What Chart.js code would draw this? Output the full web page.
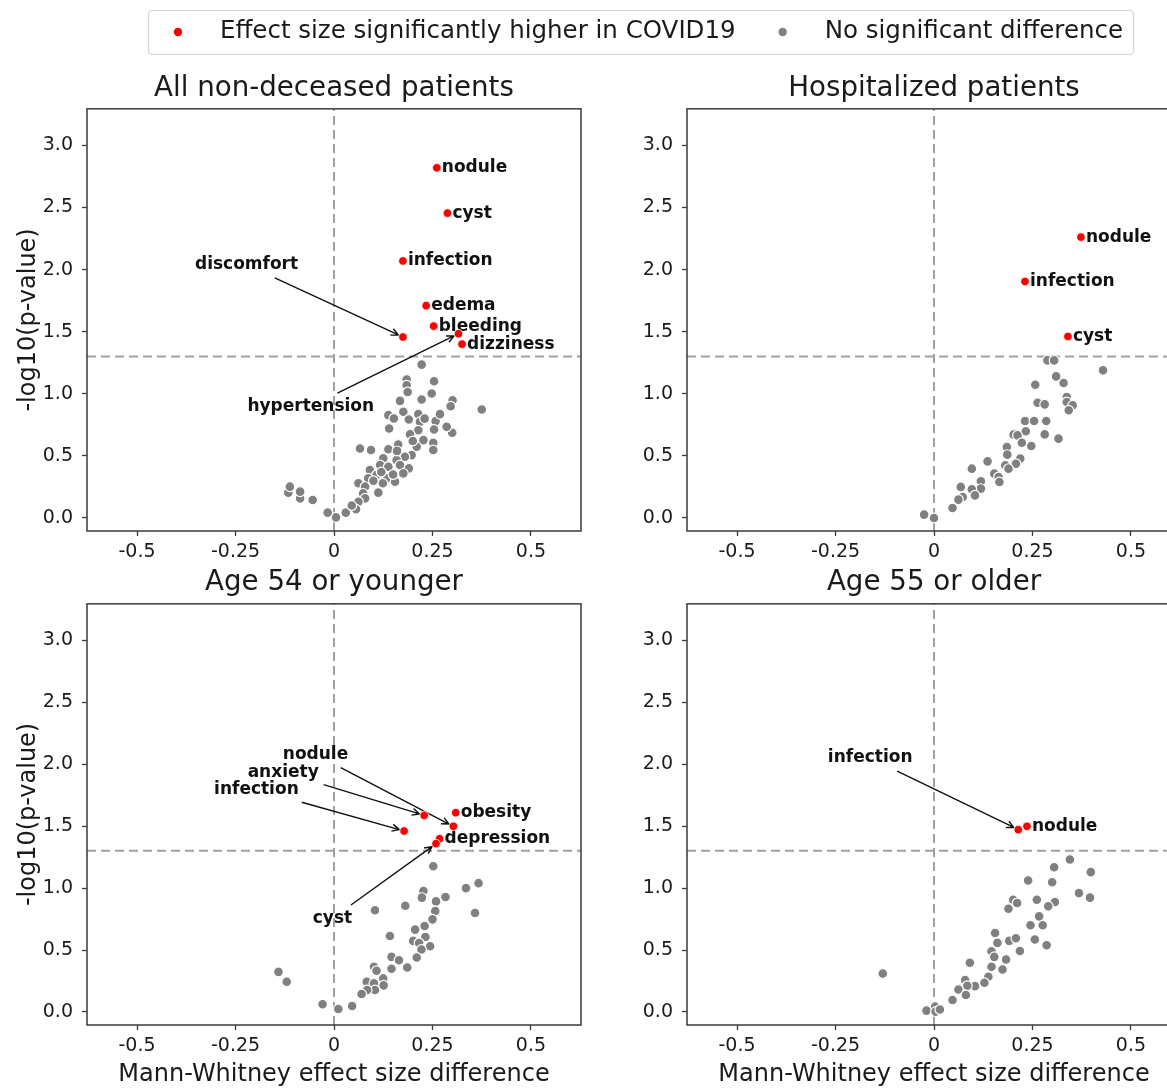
<!DOCTYPE html>
<html>
<head>
<meta charset="utf-8">
<script src="https://cdn.jsdelivr.net/npm/chart.js@4.4.0/dist/chart.umd.min.js"></script>
<style>
  html, body { margin: 0; padding: 0; background: #fff; overflow: hidden; width: 1167px; height: 1088px; }
  canvas { position: absolute; }
</style>
</head>
<body>
<canvas id="legend" width="1167" height="60" style="left:0;top:0"></canvas>
<canvas id="p0" width="600" height="510" style="left:0;top:60px"></canvas>
<canvas id="p1" width="600" height="510" style="left:600px;top:60px"></canvas>
<canvas id="p2" width="600" height="540" style="left:0;top:560px"></canvas>
<canvas id="p3" width="600" height="540" style="left:600px;top:560px"></canvas>
<script>
// axes
const xTicks = [-0.5, -0.25, 0, 0.25, 0.5];
const xTickLabels = ['-0.5', '-0.25', '0', '0.25', '0.5'];
const yTicks = [0, 0.5, 1, 1.5, 2, 2.5, 3];
const yTickLabels = ['0.0', '0.5', '1.0', '1.5', '2.0', '2.5', '3.0'];
const xRange = [-0.627, 0.627];
const yRange = [-0.105, 3.295];
const pThreshold = 0.05;

const legendNames = ['Effect size significantly higher in COVID19', 'No significant difference'];
const panelTitles = ['All non-deceased patients', 'Hospitalized patients', 'Age 54 or younger', 'Age 55 or older'];
const xTitle = 'Mann-Whitney effect size difference';
const yTitle = '-log10(p-value)';

// All non-deceased patients
const allSigNames = ['nodule', 'cyst', 'infection', 'edema', 'bleeding', 'hypertension', 'dizziness', 'discomfort'];
const allSigX = [0.261, 0.288, 0.175, 0.234, 0.253, 0.316, 0.325, 0.175];
const allSigY = [2.82, 2.455, 2.07, 1.71, 1.545, 1.484, 1.40, 1.457];
const allOtherX = [0.2225, 0.1845, 0.1845, 0.187, 0.254, 0.248, 0.2225, 0.1675, 0.301, 0.296, 0.375, 0.138, 0.152, 0.176, 0.190, 0.214,
  0.218, 0.258, 0.269, 0.140, 0.214, 0.193, 0.254, 0.300, 0.286, 0.227, 0.252, 0.163, 0.210, 0.252, 0.066, 0.094, 0.138, 0.197,
  0.180, 0.125, 0.159, 0.117, 0.138, 0.1675, 0.190, 0.176, 0.091, 0.108, 0.087, 0.134, 0.155, 0.062, 0.079, 0.1125, 0.074, 0.079,
  0.062, 0.056, 0.030, 0.005, -0.016, -0.116, -0.112, -0.086, -0.086, -0.054, 0.124, 0.150, 0.100, 0.200, 0.230, 0.120, 0.045, 0.160];
const allOtherY = [1.235, 1.115, 1.069, 1.015, 1.101, 1.002, 0.954, 0.943, 0.948, 0.900, 0.874, 0.828, 0.801, 0.855, 0.793, 0.836,
  0.774, 0.780, 0.836, 0.721, 0.707, 0.673, 0.713, 0.686, 0.734, 0.627, 0.605, 0.592, 0.573, 0.547, 0.560, 0.547, 0.553, 0.506,
  0.493, 0.480, 0.466, 0.426, 0.413, 0.426, 0.399, 0.359, 0.386, 0.346, 0.319, 0.319, 0.292, 0.279, 0.252, 0.204, 0.198, 0.158,
  0.131, 0.070, 0.043, 0.005, 0.043, 0.204, 0.252, 0.158, 0.212, 0.145, 0.279, 0.350, 0.300, 0.620, 0.800, 0.370, 0.100, 0.540];
const allNoteNames = ['discomfort', 'hypertension'];
const allNoteX = [-0.222, -0.059];
const allNoteY = [2.039, 0.900];

// Hospitalized patients
const hospSigNames = ['nodule', 'infection', 'cyst'];
const hospSigX = [0.373, 0.231, 0.340];
const hospSigY = [2.262, 1.905, 1.462];
const hospOtherX = [0.288, 0.305, 0.429, 0.310, 0.329, 0.257, 0.337, 0.337, 0.352, 0.342, 0.263, 0.281, 0.231, 0.254, 0.285,
  0.233, 0.202, 0.212, 0.281, 0.316, 0.223, 0.247, 0.185, 0.186, 0.219, 0.208, 0.181, 0.189, 0.136, 0.096, 0.153, 0.164, 0.166,
  0.119, 0.119, 0.096, 0.104, 0.068, 0.073, 0.062, 0.047, -0.025, 0.0];
const hospOtherY = [1.269, 1.269, 1.189, 1.140, 1.087, 1.073, 0.974, 0.934, 0.907, 0.867, 0.928, 0.915, 0.781, 0.781, 0.781,
  0.698, 0.671, 0.665, 0.673, 0.639, 0.606, 0.580, 0.572, 0.510, 0.478, 0.437, 0.424, 0.397, 0.456, 0.397, 0.357, 0.330, 0.290,
  0.295, 0.236, 0.231, 0.182, 0.250, 0.169, 0.148, 0.080, 0.027, 0.0];
const hospNoteNames = [];
const hospNoteX = [];
const hospNoteY = [];

// Age 54 or younger
const youngSigNames = ['obesity', 'nodule', 'anxiety', 'infection', 'depression', 'cyst'];
const youngSigX = [0.309, 0.303, 0.229, 0.178, 0.268, 0.259];
const youngSigY = [1.609, 1.499, 1.587, 1.461, 1.399, 1.359];
const youngOtherX = [0.252, 0.335, 0.367, 0.358, 0.227, 0.223, 0.259, 0.283, 0.104, 0.181, 0.257, 0.250, 0.230, 0.206, 0.142,
  0.232, 0.201, 0.216, 0.244, 0.222, 0.210, 0.146, 0.165, 0.186, 0.146, 0.1015, 0.108, 0.125, 0.083, 0.1015, 0.126, 0.104, 0.084,
  0.070, -0.141, -0.120, -0.029, 0.011, 0.046];
const youngOtherY = [1.177, 1.000, 1.040, 0.799, 0.976, 0.923, 0.893, 0.928, 0.821, 0.858, 0.815, 0.748, 0.694, 0.665, 0.614,
  0.606, 0.574, 0.557, 0.531, 0.504, 0.440, 0.445, 0.418, 0.359, 0.349, 0.365, 0.333, 0.271, 0.244, 0.231, 0.215, 0.177, 0.177,
  0.145, 0.324, 0.244, 0.062, 0.024, 0.048];
const youngNoteNames = ['nodule', 'anxiety', 'infection', 'cyst'];
const youngNoteX = [-0.047, -0.129, -0.197, -0.004];
const youngNoteY = [2.078, 1.936, 1.796, 0.756];

// Age 55 or older
const oldSigNames = ['infection', 'nodule'];
const oldSigX = [0.214, 0.236];
const oldSigY = [1.472, 1.499];
const oldOtherX = [0.345, 0.305, 0.398, 0.239, 0.300, 0.368, 0.396, 0.201, 0.211, 0.261, 0.307, 0.290, 0.189, 0.267, 0.245,
  0.276, 0.155, 0.161, 0.191, 0.208, 0.256, 0.286, 0.218, 0.146, 0.153, 0.183, 0.091, 0.146, 0.174, 0.138, 0.128, 0.104, 0.079,
  0.0845, 0.062, 0.081, 0.047, 0.003, -0.019, 0.004, 0.015, -0.130];
const oldOtherY = [1.231, 1.169, 1.129, 1.062, 1.048, 0.960, 0.923, 0.906, 0.880, 0.906, 0.888, 0.853, 0.834, 0.772, 0.700,
  0.700, 0.638, 0.558, 0.574, 0.595, 0.585, 0.539, 0.493, 0.490, 0.445, 0.424, 0.397, 0.365, 0.343, 0.284, 0.236, 0.209, 0.257,
  0.212, 0.182, 0.137, 0.097, 0.043, 0.011, 0.003, 0.020, 0.311];
const oldNoteNames = ['infection'];
const oldNoteX = [-0.162];
const oldNoteY = [2.051];

Chart.defaults.font.family = '"DejaVu Sans"';
Chart.defaults.color = '#1a1a1a';
Chart.defaults.animation = false;

const sigColor = '#ff0000';
const otherColor = '#808080';
const frameColor = '#3a3a3a';

function zip(xs, ys) { return xs.map((x, i) => ({ x: x, y: ys[i] })); }

// box round the plot area
const frame = {
  id: 'frame',
  afterDatasetsDraw(chart) {
    const a = chart.chartArea, ctx = chart.ctx;
    ctx.save();
    ctx.strokeStyle = frameColor;
    ctx.lineWidth = 1.5;
    ctx.strokeRect(a.left, a.top, a.right - a.left, a.bottom - a.top);
    ctx.restore();
  }
};

// point labels and callouts, drawn after the dashed lines but under the dots
const pointLabels = {
  id: 'pointLabels',
  afterDatasetDraw(chart, args) {
    if (args.index !== 2) return;
    const p = chart.options.plugins.pointLabels;
    const xs = chart.scales.x, ys = chart.scales.y, ctx = chart.ctx;
    ctx.save();
    ctx.font = 'bold 17px "DejaVu Sans"';
    ctx.fillStyle = '#111';
    ctx.strokeStyle = '#111';
    ctx.lineWidth = 1.4;
    ctx.textBaseline = 'middle';
    p.names.forEach((name, i) => {
      const px = xs.getPixelForValue(p.x[i]);
      const py = ys.getPixelForValue(p.y[i]);
      const n = p.noteNames.indexOf(name);
      if (n < 0) {
        ctx.textAlign = 'left';
        ctx.fillText(name, px + 5, py);
        return;
      }
      const tx = xs.getPixelForValue(p.noteX[n]);
      const ty = ys.getPixelForValue(p.noteY[n]);
      ctx.textAlign = 'center';
      ctx.fillText(name, tx, ty);
      const dx = px - tx, dy = py - ty;
      const len = Math.hypot(dx, dy);
      const ux = dx / len, uy = dy / len;
      const hw = ctx.measureText(name).width / 2 + 3, hh = 12.2;
      const t = Math.min(hw / Math.abs(dx), hh / Math.abs(dy));
      const sx = tx + dx * t + ux * 2, sy = ty + dy * t + uy * 2;
      const ex = px - ux * 5, ey = py - uy * 5;
      ctx.beginPath();
      ctx.moveTo(sx, sy);
      ctx.lineTo(ex, ey);
      const a = Math.atan2(uy, ux), hl = 8, spread = 0.45;
      ctx.moveTo(ex - hl * Math.cos(a - spread), ey - hl * Math.sin(a - spread));
      ctx.lineTo(ex, ey);
      ctx.lineTo(ex - hl * Math.cos(a + spread), ey - hl * Math.sin(a + spread));
      ctx.stroke();
    });
    ctx.restore();
  }
};

function makePanel(id, k, d, lay) {
  const sig = -Math.log10(pThreshold);
  new Chart(document.getElementById(id), {
    type: 'scatter',
    data: {
      datasets: [
        { label: legendNames[0], data: zip(d.sigX, d.sigY), backgroundColor: sigColor, borderColor: '#fff',
          borderWidth: 0.8, pointRadius: 4.3, order: 0 },
        { label: legendNames[1], data: zip(d.otherX, d.otherY), backgroundColor: otherColor, borderColor: '#fff',
          borderWidth: 1.2, pointRadius: 4.9, order: 1 },
        { data: [{ x: 0, y: yRange[0] }, { x: 0, y: yRange[1] }], showLine: true, pointRadius: 0,
          borderColor: '#a0a0a0', borderWidth: 2, borderDash: [9, 5], order: 2 },
        { data: [{ x: xRange[0], y: sig }, { x: xRange[1], y: sig }], showLine: true, pointRadius: 0,
          borderColor: '#a0a0a0', borderWidth: 2, borderDash: [9, 5], order: 2 }
      ]
    },
    options: {
      responsive: false,
      events: [],
      layout: { padding: { left: 0, right: 19, top: 0, bottom: 0 } },
      plugins: {
        legend: { display: false },
        tooltip: { enabled: false },
        title: { display: true, fullSize: false, text: panelTitles[k], font: { size: 27.7, weight: 'normal' }, color: '#1a1a1a',
          padding: { top: lay.titleTop, bottom: lay.titleBottom } },
        pointLabels: { names: d.sigNames, x: d.sigX, y: d.sigY, noteNames: d.noteNames, noteX: d.noteX, noteY: d.noteY }
      },
      scales: {
        x: {
          type: 'linear', min: xRange[0], max: xRange[1],
          afterBuildTicks: s => { s.ticks = xTicks.map(v => ({ value: v })); },
          afterFit: s => { s.height = lay.xHeight; },
          ticks: { callback: v => xTickLabels[xTicks.indexOf(v)], font: { size: 19 }, color: '#1a1a1a',
            padding: 5, maxRotation: 0, autoSkip: false },
          grid: { drawOnChartArea: false, drawTicks: true, tickLength: 5, tickColor: frameColor, tickWidth: 1.3 },
          border: { display: false },
          title: { display: lay.xTitle, text: xTitle, font: { size: 24 }, color: '#1a1a1a',
            padding: { top: 0, bottom: 10.6 } }
        },
        y: {
          type: 'linear', min: yRange[0], max: yRange[1],
          afterBuildTicks: s => { s.ticks = yTicks.map(v => ({ value: v })); },
          afterFit: s => { s.width = 87; },
          ticks: { callback: v => yTickLabels[yTicks.indexOf(v)], font: { size: 19 }, color: '#1a1a1a',
            padding: 9, autoSkip: false },
          grid: { drawOnChartArea: false, drawTicks: true, tickLength: 5, tickColor: frameColor, tickWidth: 1.3 },
          border: { display: false },
          title: { display: lay.yTitle, text: yTitle, font: { size: 24 }, color: '#1a1a1a',
            padding: { top: 14, bottom: 0 } }
        }
      }
    },
    plugins: [frame, pointLabels]
  });
}

const topRow = { titleTop: 11.8, titleBottom: 3.8, xHeight: 39, xTitle: false };
const bottomRow = { titleTop: 5.8, titleBottom: 4.8, xHeight: 75, xTitle: true };

makePanel('p0', 0, { sigNames: allSigNames, sigX: allSigX, sigY: allSigY, otherX: allOtherX, otherY: allOtherY,
  noteNames: allNoteNames, noteX: allNoteX, noteY: allNoteY }, Object.assign({ yTitle: true }, topRow));
makePanel('p1', 1, { sigNames: hospSigNames, sigX: hospSigX, sigY: hospSigY, otherX: hospOtherX, otherY: hospOtherY,
  noteNames: hospNoteNames, noteX: hospNoteX, noteY: hospNoteY }, Object.assign({ yTitle: false }, topRow));
makePanel('p2', 2, { sigNames: youngSigNames, sigX: youngSigX, sigY: youngSigY, otherX: youngOtherX, otherY: youngOtherY,
  noteNames: youngNoteNames, noteX: youngNoteX, noteY: youngNoteY }, Object.assign({ yTitle: true }, bottomRow));
makePanel('p3', 3, { sigNames: oldSigNames, sigX: oldSigX, sigY: oldSigY, otherX: oldOtherX, otherY: oldOtherY,
  noteNames: oldNoteNames, noteX: oldNoteX, noteY: oldNoteY }, Object.assign({ yTitle: false }, bottomRow));

// shared legend across the top
const legendBox = {
  id: 'legendBox',
  afterDraw(chart) {
    const ctx = chart.ctx, sets = chart.data.datasets;
    const cy = 32;
    ctx.save();
    ctx.font = '24.5px "DejaVu Sans"';
    const widths = sets.map(ds => ctx.measureText(ds.label).width);
    let x = 178;
    let total = 0;
    widths.forEach((w, i) => { total += 42 + w + (i < widths.length - 1 ? 47 : 0); });
    const left = x - 30, right = x + total + 10;
    ctx.beginPath();
    ctx.roundRect(left + 0.5, 10.5, right - left, 44, 4);
    ctx.fillStyle = '#fff';
    ctx.fill();
    ctx.strokeStyle = '#d4d4d4';
    ctx.lineWidth = 1.2;
    ctx.stroke();
    sets.forEach((ds, i) => {
      ctx.beginPath();
      ctx.arc(x, cy, 4.2, 0, 2 * Math.PI);
      ctx.fillStyle = ds.backgroundColor;
      ctx.fill();
      ctx.fillStyle = '#1a1a1a';
      ctx.textBaseline = 'middle';
      ctx.textAlign = 'left';
      ctx.fillText(ds.label, x + 42, cy);
      x += 42 + widths[i] + 47;
    });
    ctx.restore();
  }
};

new Chart(document.getElementById('legend'), {
  type: 'scatter',
  data: { datasets: [
    { label: legendNames[0], data: [], backgroundColor: sigColor },
    { label: legendNames[1], data: [], backgroundColor: otherColor }
  ] },
  options: {
    responsive: false,
    events: [],
    plugins: { legend: { display: false }, tooltip: { enabled: false } },
    scales: { x: { display: false }, y: { display: false } }
  },
  plugins: [legendBox]
});
</script>
</body>
</html>
